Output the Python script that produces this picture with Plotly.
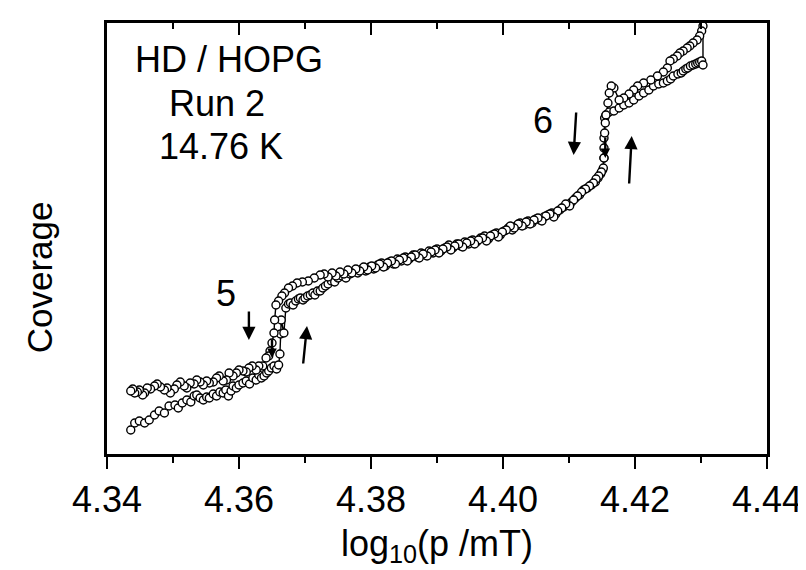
import plotly.graph_objects as go

# ---------------- data (x = log10(p/mT), y = coverage, arbitrary units) ----------------
# Adsorption branch (increasing pressure), ascending x
ads_x = [
    4.3436, 4.3442, 4.3449, 4.3457, 4.3464, 4.3472, 4.3479, 4.3487, 4.3494, 4.3503,
    4.3508, 4.3514, 4.3521, 4.3527, 4.3532, 4.3536, 4.3541, 4.3546, 4.3551, 4.3555,
    4.3561, 4.3566, 4.3571, 4.3576, 4.3580, 4.3584, 4.3588, 4.3591, 4.3596, 4.3600,
    4.3606, 4.3611, 4.3616, 4.3621, 4.3626, 4.3630, 4.3634, 4.3638, 4.3642, 4.3645,
    4.3649, 4.3653, 4.3657, 4.3660, 4.3662, 4.3663, 4.3664, 4.3668, 4.3671, 4.3675,
    4.3678, 4.3682, 4.3686, 4.3690, 4.3693, 4.3697, 4.3700, 4.3704, 4.3708, 4.3712,
    4.3715, 4.3719, 4.3723, 4.3727, 4.3731, 4.3735, 4.3740, 4.3745, 4.3750, 4.3756,
    4.3762, 4.3768, 4.3774, 4.3780, 4.3786, 4.3792, 4.3798, 4.3804, 4.3810, 4.3816,
    4.3822, 4.3828, 4.3834, 4.3840, 4.3846, 4.3852, 4.3858, 4.3864, 4.3870, 4.3876,
    4.3882, 4.3888, 4.3894, 4.3900, 4.3906, 4.3912, 4.3918, 4.3924, 4.3930, 4.3936,
    4.3942, 4.3948, 4.3954, 4.3960, 4.3966, 4.3972, 4.3978, 4.3984, 4.3990, 4.3996,
    4.4002, 4.4008, 4.4014, 4.4020, 4.4026, 4.4032, 4.4038, 4.4044, 4.4050, 4.4056,
    4.4062, 4.4068, 4.4074, 4.4080, 4.4086, 4.4092, 4.4098, 4.4104, 4.4110, 4.4116,
    4.4122, 4.4128, 4.4134, 4.4140, 4.4144, 4.4148, 4.4151, 4.4153, 4.4153, 4.4154,
    4.4156, 4.4161, 4.4168, 4.4176, 4.4183, 4.4191, 4.4198, 4.4206, 4.4213, 4.4221,
    4.4228, 4.4236, 4.4243, 4.4249, 4.4254, 4.4258, 4.4265, 4.4270, 4.4273, 4.4277,
    4.4280, 4.4284, 4.4288, 4.4292, 4.4295, 4.4298, 4.4301, 4.4303,
]
ads_y = [
    24, 31, 33, 31, 34, 39, 43, 41, 48, 49,
    46, 51, 54, 52, 58, 59, 56, 54, 57, 56,
    60, 58, 62, 61, 64, 58, 63, 68, 66, 69,
    71, 73, 70, 76, 74, 79, 76, 78, 81, 83,
    86, 88, 85, 89, 100, 120, 134, 121, 146, 150,
    151, 149, 153, 155, 156, 154, 156, 158, 159, 161,
    159, 163, 163, 166, 168, 170, 173, 172, 176, 178,
    176, 180, 183, 181, 185, 183, 187, 185, 189, 191,
    188, 192, 190, 195, 193, 197, 195, 199, 197, 201,
    199, 203, 201, 205, 203, 206, 209, 206, 210, 208,
    212, 210, 214, 212, 216, 218, 215, 219, 221, 219,
    223, 226, 224, 228, 231, 229, 233, 231, 235, 234,
    237, 239, 241, 240, 244, 247, 249, 252, 256, 259,
    264, 266, 269, 272, 276, 280, 284, 296, 316, 336,
    339, 342, 343, 346, 349, 351, 354, 358, 361, 364,
    368, 370, 371, 373, 375, 378, 380, 381, 383, 385,
    386, 388, 389, 390, 391, 392, 393, 389,
]

# Desorption branch (decreasing pressure), listed with ascending x
des_x = [
    4.3436, 4.3439, 4.3442, 4.3446, 4.3449, 4.3454, 4.3457, 4.3461, 4.3466, 4.3472,
    4.3476, 4.3481, 4.3487, 4.3491, 4.3496, 4.3502, 4.3506, 4.3511, 4.3517, 4.3521,
    4.3526, 4.3532, 4.3536, 4.3541, 4.3546, 4.3551, 4.3555, 4.3561, 4.3566, 4.3570,
    4.3576, 4.3581, 4.3585, 4.3591, 4.3596, 4.3600, 4.3606, 4.3611, 4.3615, 4.3620,
    4.3626, 4.3630, 4.3636, 4.3641, 4.3645, 4.3647, 4.3650, 4.3653, 4.3654, 4.3656,
    4.3660, 4.3665, 4.3669, 4.3675, 4.3681, 4.3688, 4.3696, 4.3705, 4.3714, 4.3723,
    4.3729, 4.3735, 4.3741, 4.3747, 4.3753, 4.3759, 4.3765, 4.3771, 4.3777, 4.3783,
    4.3789, 4.3795, 4.3801, 4.3807, 4.3813, 4.3819, 4.3825, 4.3831, 4.3837, 4.3843,
    4.3849, 4.3855, 4.3861, 4.3867, 4.3873, 4.3879, 4.3885, 4.3891, 4.3897, 4.3903,
    4.3909, 4.3915, 4.3921, 4.3927, 4.3933, 4.3939, 4.3945, 4.3951, 4.3957, 4.3963,
    4.3969, 4.3975, 4.3981, 4.3987, 4.3993, 4.3999, 4.4005, 4.4011, 4.4017, 4.4023,
    4.4029, 4.4035, 4.4041, 4.4047, 4.4053, 4.4059, 4.4065, 4.4071, 4.4077, 4.4083,
    4.4089, 4.4095, 4.4101, 4.4107, 4.4113, 4.4119, 4.4125, 4.4131, 4.4137, 4.4141,
    4.4145, 4.4149, 4.4152, 4.4153, 4.4153, 4.4154, 4.4155, 4.4156, 4.4159, 4.4161,
    4.4164, 4.4168, 4.4176, 4.4183, 4.4191, 4.4198, 4.4204, 4.4213, 4.4224, 4.4234,
    4.4243, 4.4249, 4.4253, 4.4258, 4.4264, 4.4268, 4.4273, 4.4279, 4.4283, 4.4288,
    4.4294, 4.4298, 4.4301, 4.4303,
]
des_y = [
    63, 65, 61, 62, 64, 59, 61, 66, 65, 68,
    70, 67, 64, 66, 61, 65, 69, 72, 68, 66,
    71, 70, 74, 72, 69, 73, 71, 72, 76, 78,
    73, 74, 81, 78, 81, 84, 83, 82, 86, 88,
    84, 88, 88, 96, 98, 103, 111, 121, 134, 149,
    153, 158, 161, 166, 168, 171, 172, 173, 176, 179,
    180, 177, 181, 178, 182, 180, 184, 181, 185, 183,
    187, 184, 188, 186, 190, 187, 191, 193, 190, 194,
    196, 193, 197, 199, 196, 200, 198, 202, 204, 201,
    205, 207, 204, 208, 210, 207, 211, 213, 210, 214,
    216, 213, 218, 220, 217, 222, 224, 228, 226, 230,
    228, 232, 230, 234, 236, 233, 238, 240, 237, 243,
    246, 250, 248, 254, 258, 262, 265, 268, 271, 275,
    278, 282, 286, 296, 306, 321, 331, 339, 351, 361,
    368, 366, 354, 356, 360, 364, 368, 371, 374, 378,
    382, 386, 393, 395, 398, 401, 403, 406, 408, 411,
    414, 418, 423, 428,
]

x_ticks = [4.34, 4.36, 4.38, 4.40, 4.42, 4.44]
x_tick_text = ["4.34", "4.36", "4.38", "4.40", "4.42", "4.44"]
x_range = [4.34, 4.44]
y_range = [0, 431]

# sweep order: adsorption up, then desorption back down
sweep_x = ads_x + des_x[::-1]
sweep_y = ads_y + des_y[::-1]

FONT = "Liberation Sans, Arial, Helvetica, sans-serif"
FS = 36

fig = go.Figure()
fig.add_trace(go.Scatter(
    x=sweep_x, y=sweep_y, mode="lines+markers",
    line=dict(color="black", width=1.4),
    marker=dict(symbol="circle", size=8, color="white",
                line=dict(color="black", width=1.4)),
    showlegend=False, hoverinfo="skip",
))
# invisible trace for the top (mirror) axis
fig.add_trace(go.Scatter(x=x_range, y=y_range, xaxis="x2", mode="markers",
                         marker=dict(opacity=0), showlegend=False, hoverinfo="skip"))

fig.update_layout(
    width=806, height=570,
    margin=dict(l=99, r=39, t=15, b=124),
    paper_bgcolor="white", plot_bgcolor="white",
    font=dict(family=FONT, color="black", size=FS),
    xaxis=dict(
        range=x_range, tickvals=x_ticks, ticktext=x_tick_text,
        ticks="outside", ticklen=12, tickwidth=2, tickcolor="black",
        minor=dict(dtick=0.01, ticks="outside", ticklen=6, tickwidth=2, tickcolor="black"),
        showline=True, linewidth=2.5, linecolor="black", mirror=True,
        showgrid=False, zeroline=False,
        tickfont=dict(size=FS),
        title=dict(text="log<sub>10</sub>(p /mT)", font=dict(size=FS), standoff=12),
    ),
    xaxis2=dict(
        range=x_range, overlaying="x", side="top", tickvals=x_ticks,
        ticks="inside", ticklen=12, tickwidth=2, tickcolor="black",
        minor=dict(dtick=0.01, ticks="inside", ticklen=6, tickwidth=2, tickcolor="black"),
        showticklabels=False, showgrid=False, zeroline=False, showline=False,
    ),
    yaxis=dict(
        range=y_range, showticklabels=False, ticks="",
        showline=True, linewidth=2.5, linecolor="black", mirror=True,
        showgrid=False, zeroline=False,
    ),
)

# y-axis title, placed like the reference (below the axis centre)
fig.add_annotation(text="Coverage", xref="paper", yref="paper", x=-0.103, y=0.41,
                   textangle=-90, showarrow=False, xanchor="center", yanchor="middle",
                   font=dict(size=35, family=FONT, color="black"))

# text labels
labels = [
    ("HD / HOPG", 4.3585, 395),
    ("Run 2", 4.3566, 351),
    ("14.76 K", 4.3572, 308),
    ("5", 4.3581, 161),
    ("6", 4.4061, 334),
]
for txt, lx, ly in labels:
    fig.add_annotation(x=lx, y=ly, xref="x", yref="y", text=txt, showarrow=False,
                       font=dict(size=FS, family=FONT, color="black"))

# arrows: (head_x, head_y, tail_x, tail_y, size, width)
arrows = [
    (4.3615, 114, 4.3615, 144, 1.1, 2.4),
    (4.3703, 128, 4.3697, 89, 1.1, 2.4),
    (4.4107, 299, 4.4111, 343, 1.1, 2.4),
    (4.4195, 318, 4.4191, 269, 1.1, 2.4),
    (4.3650, 96, 4.3650, 116, 0.8, 2.4),
    (4.4155, 296, 4.4155, 318, 0.8, 2.4),
]
for hx, hy, tx, ty, s, w in arrows:
    fig.add_annotation(x=hx, y=hy, ax=tx, ay=ty, xref="x", yref="y", axref="x", ayref="y",
                       showarrow=True, arrowhead=2, arrowsize=s, arrowwidth=w,
                       arrowcolor="black", standoff=0, startstandoff=0, text="")

fig.write_html("out.html")
